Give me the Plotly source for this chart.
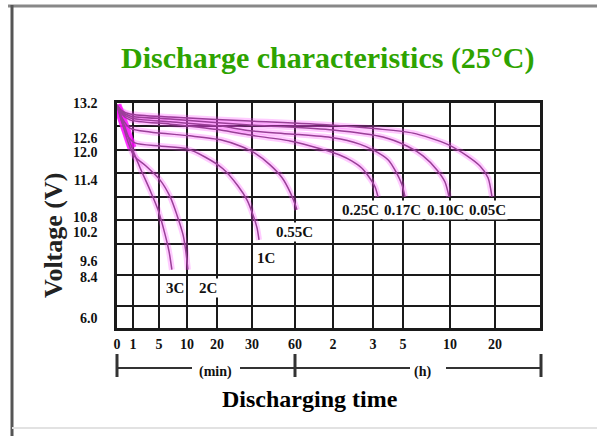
import numpy as np
import plotly.graph_objects as go

# ---- axis scales (chart's non-uniform time axis) ----
TIME_MIN = [0, 1, 5, 10, 20, 30, 60, 120, 180, 300, 600, 1200, 2400]
TIME_POS = [0, 16, 42, 70, 100, 135, 178, 216, 256, 286, 333, 378, 423]
TIME_LABELS = ["0", "1", "5", "10", "20", "30", "60", "2", "3", "5", "10", "20"]

V_GRID = [12.6, 12.0, 11.4, 10.8, 10.2, 9.6, 8.8, 8.0]
V_LABELS = ["13.2", "12.6", "12.0", "11.4", "10.8", "10.2", "9.6", "8.4", "6.0"]
V_LABEL_POS = [13.2, 12.31, 11.95, 11.23, 10.29, 9.91, 9.17, 8.76, 7.71]

# ---- discharge curves: time (min) and voltage (V) ----
t_3c = [0, 0.25, 0.56, 0.94, 2.1, 3.6, 4.85, 6.1, 6.8, 7.3]
v_3c = [13.15, 12.87, 12.51, 12.05, 11.54, 10.98, 10.47, 9.83, 9.40, 8.94]
t_2c = [0, 0.31, 0.69, 1.15, 3.0, 5.2, 7.0, 8.2, 9.3, 9.8, 10.3]
v_2c = [13.15, 12.72, 12.20, 11.85, 11.59, 11.23, 10.80, 10.34, 9.83, 9.40, 8.94]
t_1c = [0, 0.25, 0.63, 1.3, 5.2, 10, 16, 21.7, 26, 28.6, 30.7, 33.5, 34.9]
v_1c = [13.15, 12.77, 12.38, 12.18, 12.10, 12.03, 11.82, 11.52, 11.08, 10.72, 10.34, 10.01, 9.70]
t_055c = [0, 0.31, 0.81, 3.6, 11, 21, 26.6, 32, 42.6, 51, 56.5, 60, 63]
v_055c = [13.15, 12.82, 12.56, 12.46, 12.36, 12.26, 12.10, 11.92, 11.62, 11.29, 10.93, 10.62, 10.47]
t_025c = [0, 0.25, 0.81, 7, 21, 29.4, 56.5, 100, 130, 148, 163, 174, 188, 200]
v_025c = [13.15, 12.94, 12.77, 12.66, 12.51, 12.38, 12.23, 12.03, 11.87, 11.72, 11.54, 11.31, 11.06, 10.80]
t_017c = [0, 0.25, 0.81, 7, 21, 29.4, 56.5, 120, 160, 180, 240, 272, 296, 313]
v_017c = [13.15, 12.97, 12.82, 12.72, 12.61, 12.49, 12.41, 12.31, 12.15, 12.00, 11.75, 11.44, 11.11, 10.80]
t_010c = [0, 0.25, 0.81, 7, 29.4, 120, 220, 325, 428, 517, 568, 594]
v_010c = [13.15, 13.00, 12.87, 12.79, 12.64, 12.51, 12.33, 12.10, 11.85, 11.49, 11.18, 10.80]
t_005c = [0, 0.25, 0.81, 7, 29.4, 115, 196, 364, 581, 827, 1000, 1107, 1160]
v_005c = [13.15, 13.02, 12.92, 12.84, 12.74, 12.64, 12.54, 12.43, 12.15, 11.85, 11.59, 11.29, 10.80]

curves = [
    ("3C", t_3c, v_3c), ("2C", t_2c, v_2c), ("1C", t_1c, v_1c),
    ("0.55C", t_055c, v_055c), ("0.25C", t_025c, v_025c),
    ("0.17C", t_017c, v_017c), ("0.10C", t_010c, v_010c), ("0.05C", t_005c, v_005c),
]


def time_axis(minutes):
    return np.interp(np.asarray(minutes, float), TIME_MIN, TIME_POS)


# plot area in pixels (figure 597x436)
L, R, T, B = 117, 540, 103, 328
W, H = 597, 436


def px(x):
    return (x - L) / (R - L)


def py(y):
    return (B - y) / (B - T)


FONT = "Liberation Serif, Times New Roman, serif"
fig = go.Figure()

for name, t, v in curves:
    xs = time_axis(t)
    fig.add_trace(go.Scatter(x=xs, y=v, mode="lines", hoverinfo="skip",
                             line=dict(color="rgba(255,70,255,0.28)", width=6, shape="spline", smoothing=0.7),
                             showlegend=False))

# bright magenta blob where all curves begin (start of the 3C curve, drawn thick)
fig.add_trace(go.Scatter(x=time_axis(t_3c[:4]), y=v_3c[:4], mode="lines", hoverinfo="skip",
                         line=dict(color="rgba(255,0,255,0.75)", width=9, shape="spline"),
                         showlegend=False))

for name, t, v in curves:
    xs = time_axis(t)
    fig.add_trace(go.Scatter(x=xs, y=v, mode="lines", name=name,
                             line=dict(color="#9a3f98", width=1.5, shape="spline", smoothing=0.7),
                             showlegend=False))

fig.update_xaxes(range=[0, TIME_POS[-1]], tickvals=TIME_POS[:-1], ticktext=TIME_LABELS,
                 showgrid=True, gridcolor="#1a1a1a", gridwidth=2, zeroline=False,
                 showline=True, linecolor="#1a1a1a", linewidth=2.5, mirror=True,
                 ticks="", ticklabelstandoff=1,
                 tickfont=dict(family=FONT, size=14, color="#111", weight="bold"))
fig.update_yaxes(range=[7.45, 13.2], tickvals=V_LABEL_POS, ticktext=V_LABELS,
                 showgrid=False, zeroline=False,
                 minor=dict(tickvals=V_GRID, showgrid=True, gridcolor="#1a1a1a", gridwidth=2, ticks=""),
                 showline=True, linecolor="#1a1a1a", linewidth=2.5, mirror=True,
                 ticks="", ticklabelstandoff=14,
                 tickfont=dict(family=FONT, size=14, color="#111", weight="bold"))

ann = []
ann.append(dict(text="Discharge characteristics (25°C)", x=px(328), y=py(58), xref="paper", yref="paper",
                showarrow=False, xanchor="center", yanchor="middle",
                font=dict(family=FONT, size=30, color="#2ea300", weight="bold")))
ann.append(dict(text="Discharging time", x=px(310), y=py(399), xref="paper", yref="paper",
                showarrow=False, xanchor="center", yanchor="middle",
                font=dict(family=FONT, size=24, color="#000", weight="bold")))
ann.append(dict(text="Voltage (V)", x=px(53), y=py(236), xref="paper", yref="paper", textangle=-90,
                showarrow=False, xanchor="center", yanchor="middle",
                font=dict(family=FONT, size=26, color="#222", weight="bold")))
ann.append(dict(text="(min)", x=px(215), y=py(372), xref="paper", yref="paper",
                showarrow=False, xanchor="center", yanchor="middle",
                font=dict(family=FONT, size=14, color="#111", weight="bold")))
ann.append(dict(text="(h)", x=px(422), y=py(372), xref="paper", yref="paper",
                showarrow=False, xanchor="center", yanchor="middle",
                font=dict(family=FONT, size=14, color="#111", weight="bold")))
label_pos = {"3C": (175, 288), "2C": (208, 288), "1C": (266, 258), "0.55C": (294, 232),
             "0.25C": (360, 210), "0.17C": (402, 210), "0.10C": (445, 210), "0.05C": (487, 210)}
for name, (lx, ly) in label_pos.items():
    ann.append(dict(text=name, x=px(lx), y=py(ly), xref="paper", yref="paper",
                    showarrow=False, xanchor="center", yanchor="middle", bgcolor="white",
                    font=dict(family=FONT, size=15, color="#111", weight="bold")))

shapes = []
line_k = dict(color="#333", width=2)
yb = py(368)
for x0, x1 in [(117, 192), (240, 410), (446, 541)]:
    shapes.append(dict(type="line", xref="paper", yref="paper", x0=px(x0), x1=px(x1), y0=yb, y1=yb, line=line_k))
for xv in [117, 295, 541]:
    shapes.append(dict(type="line", xref="paper", yref="paper", x0=px(xv), x1=px(xv), y0=py(354), y1=py(377),
                       line=dict(color="#333", width=3)))
# outer frame
shapes.append(dict(type="line", xref="paper", yref="paper", x0=px(8), x1=px(597), y0=py(6), y1=py(6),
                   line=dict(color="#888", width=3)))
shapes.append(dict(type="line", xref="paper", yref="paper", x0=px(12), x1=px(12), y0=py(5), y1=py(436),
                   line=dict(color="#555", width=3)))
shapes.append(dict(type="line", xref="paper", yref="paper", x0=px(12), x1=px(597), y0=py(428), y1=py(428),
                   line=dict(color="#e2e2e2", width=2)))

fig.update_layout(width=W, height=H, margin=dict(l=L, r=W - R, t=T, b=H - B),
                  paper_bgcolor="white", plot_bgcolor="white",
                  annotations=ann, shapes=shapes, showlegend=False)

fig.write_html("out.html", config={"displayModeBar": False},
               post_script="document.body.style.margin='0';")
